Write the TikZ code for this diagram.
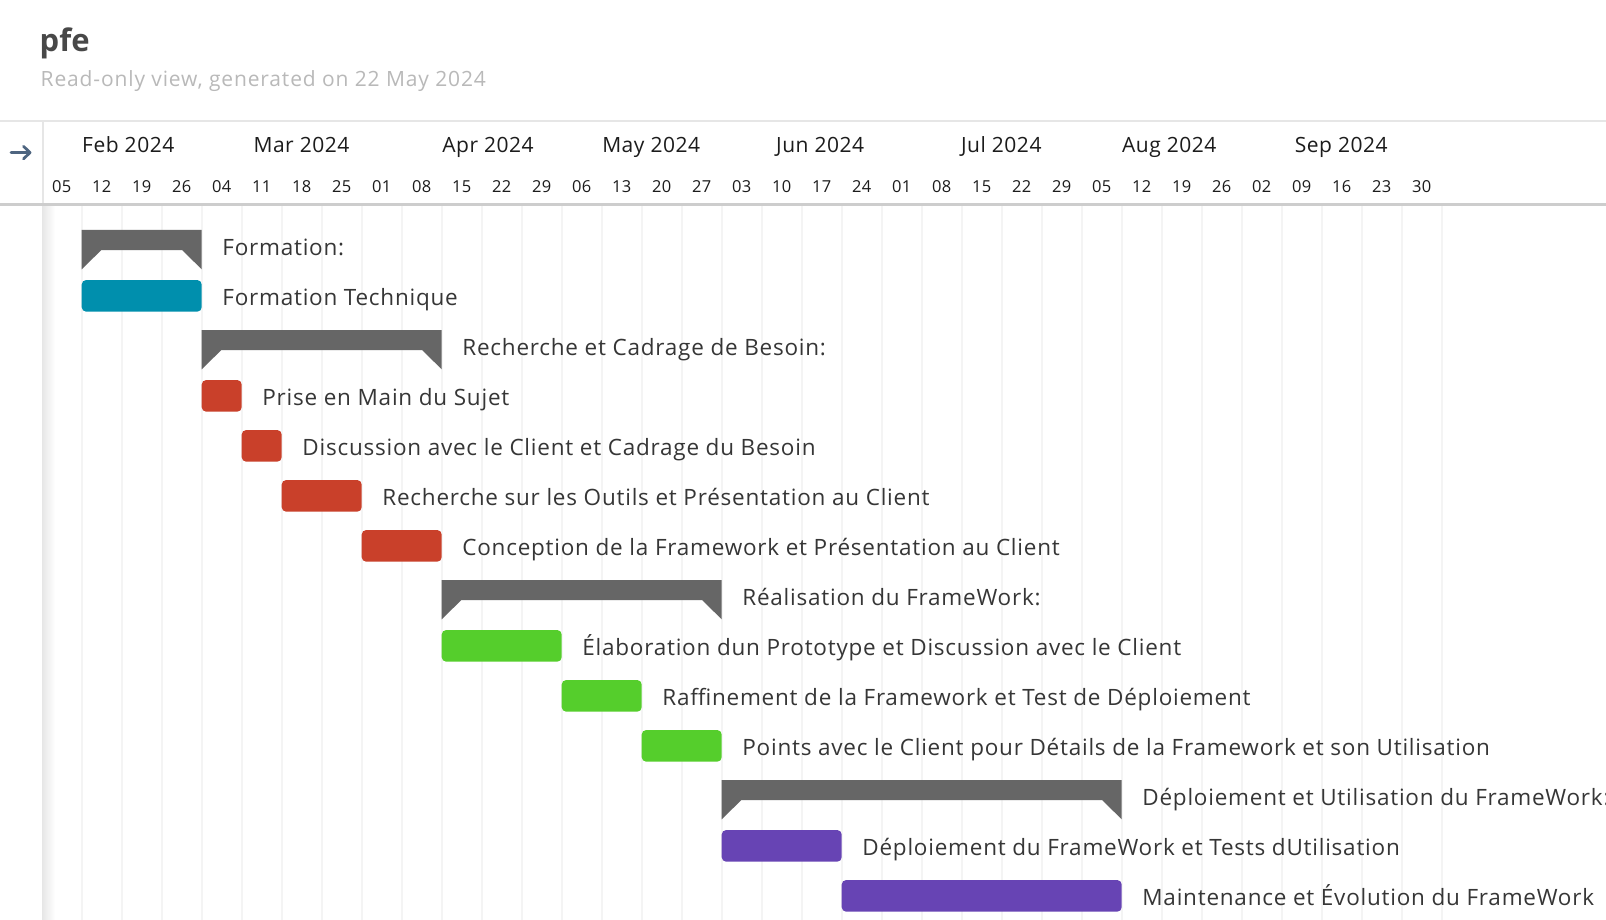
\documentclass[tikz,border=0pt]{standalone}
\usepackage{fontspec}
\setmainfont{Open Sans}
\newfontfamily\taskfont[LetterSpace=3.4]{Open Sans}
\newfontfamily\subfont[LetterSpace=4.1]{Open Sans}
\newfontfamily\monthfont[LetterSpace=2.5]{Open Sans}
\newfontfamily\dayfont[LetterSpace=1.5]{Open Sans}

\definecolor{titlegray}{HTML}{484848}
\definecolor{subgray}{HTML}{B9B9B9}
\definecolor{textgray}{HTML}{363636}
\definecolor{headtext}{HTML}{1C1C1C}
\definecolor{ruleA}{HTML}{E6E6E6}
\definecolor{ruleB}{HTML}{CDCDCD}
\definecolor{gridgray}{HTML}{F4F4F4}
\definecolor{shadowgray}{HTML}{E6E6E6}
\definecolor{arrowblue}{HTML}{4E6580}
\definecolor{summarygray}{HTML}{666666}
\definecolor{tealbar}{HTML}{008FAD}
\definecolor{redbar}{HTML}{C9402A}
\definecolor{greenbar}{HTML}{55CE2C}
\definecolor{purplebar}{HTML}{6744B4}

\tikzset{
  tasklabel/.style={anchor=base west, inner sep=0pt, text=textgray,
    font=\taskfont\fontsize{22.5}{26}\selectfont},
  monthlabel/.style={anchor=base, inner sep=0pt, text=headtext,
    font=\monthfont\fontsize{21}{25}\selectfont},
  daylabel/.style={anchor=base, inner sep=0pt, text=headtext,
    font=\dayfont\fontsize{16.5}{20}\selectfont},
}

% week k starts at x = 41.7 + 40k, row r starts at y = 230 + 50r
\newcommand\taskrow[6]{% name, first week, last week, row, colour, text
  \pgfmathsetmacro\xa{41.7+40*#2}
  \pgfmathsetmacro\xb{41.7+40*#3}
  \pgfmathsetmacro\ya{230+50*#4}
  \fill[#5, rounded corners=4.5pt] (\xa,\ya) rectangle (\xb,\ya+31.7);
  \node[tasklabel] (#1) at (\xb+20.5,\ya+25.8) {#6};
}
\newcommand\grouprow[5]{% name, first week, last week, row, text
  \pgfmathsetmacro\xa{41.7+40*#2}
  \pgfmathsetmacro\xb{41.7+40*#3}
  \pgfmathsetmacro\ya{230+50*#4}
  \fill[summarygray] (\xa,\ya) -- (\xb,\ya) -- (\xb,\ya+39.3)
    -- (\xb-19.7,\ya+20) -- (\xa+19.7,\ya+20) -- (\xa,\ya+39.3) -- cycle;
  \node[tasklabel] (#1) at (\xb+20.5,\ya+25.8) {#5};
}

\begin{document}
\begin{tikzpicture}[x=1pt,y=-1pt]
\useasboundingbox (0,0) rectangle (1606,920);
\clip (0,0) rectangle (1606,920);
\fill[white] (0,0) rectangle (1606,920);

% title block
\node[anchor=base west, inner sep=0pt, text=titlegray,
  font=\fontsize{31}{36}\selectfont\bfseries] (title) at (39.5,51.7) {pfe};
\node[anchor=base west, inner sep=0pt, text=subgray,
  font=\subfont\fontsize{21}{24}\selectfont] (subtitle) at (40.5,87)
  {Read-only view, generated on 22 May 2024};

% week grid and left shadow
\foreach \k in {1,...,35}
  \draw[gridgray, line width=1.6pt] ({41.7+40*\k},205) -- ({41.7+40*\k},920);
\shade[left color=shadowgray, right color=white] (42,205) rectangle (55,920);

% header rules
\draw[ruleA, line width=2pt] (0,120.7) -- (1606,120.7);
\draw[ruleB, line width=2.5pt] (0,204.5) -- (1606,204.5);
\draw[ruleA, line width=2pt] (43.2,121.7) -- (43.2,203.3);

% collapse arrow
\draw[arrowblue, line width=2.8pt, line cap=round, line join=round]
  (11,152.6) -- (30,152.6) (23.5,146.3) -- (30,152.6) -- (23.5,158.9);

% months
\node[monthlabel] (mFeb) at (128.3,152.7) {Feb 2024};
\node[monthlabel] (mMar) at (301.5,152.7) {Mar 2024};
\node[monthlabel] (mApr) at (488.0,152.7) {Apr 2024};
\node[monthlabel] (mMay) at (651.2,152.7) {May 2024};
\node[monthlabel] (mJun) at (820.2,152.7) {Jun 2024};
\node[monthlabel] (mJul) at (1001.3,152.7) {Jul 2024};
\node[monthlabel] (mAug) at (1169.2,152.7) {Aug 2024};
\node[monthlabel] (mSep) at (1341.2,152.7) {Sep 2024};

% week start days
\foreach \d [count=\i from 0] in {05,12,19,26,04,11,18,25,01,08,15,22,29,06,13,20,27,03,10,17,24,01,08,15,22,29,05,12,19,26,02,09,16,23,30}
  \node[daylabel] (day\i) at ({61.7+40*\i},192.7) {\d};

% tasks
\grouprow{g1}{1}{4}{0}{Formation:}
\taskrow{t1}{1}{4}{1}{tealbar}{Formation Technique}
\grouprow{g2}{4}{10}{2}{Recherche et Cadrage de Besoin:}
\taskrow{t2}{4}{5}{3}{redbar}{Prise en Main du Sujet}
\taskrow{t3}{5}{6}{4}{redbar}{Discussion avec le Client et Cadrage du Besoin}
\taskrow{t4}{6}{8}{5}{redbar}{Recherche sur les Outils et Présentation au Client}
\taskrow{t5}{8}{10}{6}{redbar}{Conception de la Framework et Présentation au Client}
\grouprow{g3}{10}{17}{7}{Réalisation du FrameWork:}
\taskrow{t6}{10}{13}{8}{greenbar}{Élaboration dun Prototype et Discussion avec le Client}
\taskrow{t7}{13}{15}{9}{greenbar}{Raffinement de la Framework et Test de Déploiement}
\taskrow{t8}{15}{17}{10}{greenbar}{Points avec le Client pour Détails de la Framework et son Utilisation}
\grouprow{g4}{17}{27}{11}{Déploiement et Utilisation du FrameWork:}
\taskrow{t9}{17}{20}{12}{purplebar}{Déploiement du FrameWork et Tests dUtilisation}
\taskrow{t10}{20}{27}{13}{purplebar}{Maintenance et Évolution du FrameWork}
\end{tikzpicture}
\end{document}
